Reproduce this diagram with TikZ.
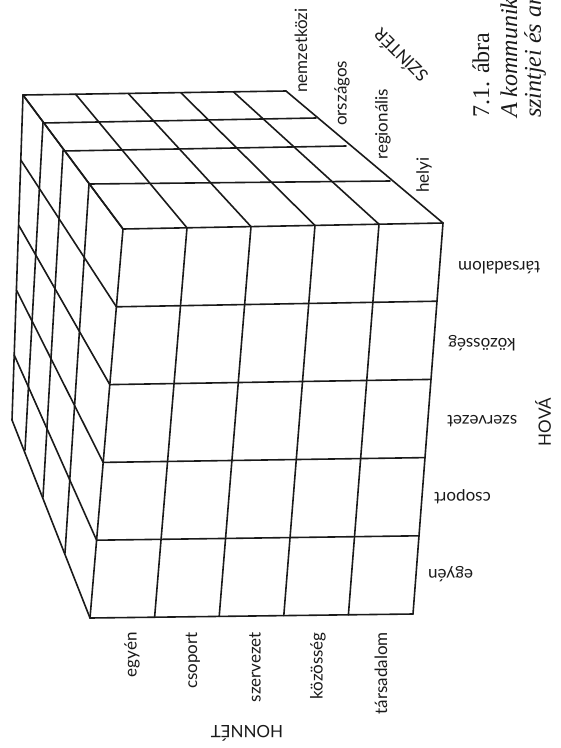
\documentclass[tikz,border=0pt]{standalone}
\usepackage{fontspec}
\newfontfamily\labelfont{Lato}
\newfontfamily\capfont{Liberation Serif}
\usepackage{tikz}
\usetikzlibrary{calc}
\usepackage{xcolor}
\definecolor{Ink}{HTML}{1A1A1A}

\begin{document}
\begin{tikzpicture}[x=1pt,y=-1pt,
  gridline/.style={draw=Ink,line width=1.6pt,line cap=round,line join=round},
  axislbl/.style={font=\labelfont\fontsize{17}{17}\selectfont,text=Ink,inner sep=0pt},
  caplbl/.style={font=\capfont\fontsize{24}{24}\selectfont,text=Ink,inner sep=0pt,rotate=90,anchor=west}]
  \useasboundingbox (0,0) rectangle (561,748);
  \clip (0,0) rectangle (561,748);
  \coordinate (L0) at (123,229); \coordinate (R0) at (443,223);
  \coordinate (L1) at (89,184);  \coordinate (R1) at (390,181);
  \coordinate (L2) at (63,151);  \coordinate (R2) at (346,146);
  \coordinate (L3) at (43,123);  \coordinate (R3) at (316,118);
  \coordinate (L4) at (23,95);   \coordinate (R4) at (286,91);
  \coordinate (B0) at (90,618);  \coordinate (BR) at (413,614);
  \coordinate (B1) at (65,553);
  \coordinate (B2) at (43,497);
  \coordinate (B3) at (25,450);
  \coordinate (B4) at (12,420);
  \foreach \i in {0,...,5} {
    \draw[gridline] ($(L0)!\i/5!(R0)$) -- ($(B0)!\i/5!(BR)$);
    \draw[gridline] ($(L0)!\i/5!(B0)$) -- ($(R0)!\i/5!(BR)$);
    \draw[gridline] ($(L0)!\i/5!(R0)$) -- ($(L4)!\i/5!(R4)$);
    \draw[gridline] ($(L0)!\i/5!(B0)$) -- ($(L4)!\i/5!(B4)$);
  }
  \foreach \k in {1,...,4} {
    \draw[gridline] (L\k) -- (R\k);
    \draw[gridline] (L\k) -- (B\k);
  }
  \node[axislbl,rotate=90,anchor=east] (from1) at (132,632) {egyén};
  \node[axislbl,rotate=90,anchor=east] (from2) at (193,632) {csoport};
  \node[axislbl,rotate=90,anchor=east] (from3) at (255,632) {szervezet};
  \node[axislbl,rotate=90,anchor=east] (from4) at (318,632) {közösség};
  \node[axislbl,rotate=90,anchor=east] (from5) at (381,632) {társadalom};
  \node[axislbl,rotate=180] (honnet) at (247,733) {HONNÉT};
  \node[axislbl,rotate=180,anchor=east] (to1) at (428,574) {egyén};
  \node[axislbl,rotate=180,anchor=east] (to2) at (434,497) {csoport};
  \node[axislbl,rotate=180,anchor=east] (to3) at (447,421) {szervezet};
  \node[axislbl,rotate=180,anchor=east] (to4) at (448,343) {közösség};
  \node[axislbl,rotate=180,anchor=east] (to5) at (458,268) {társadalom};
  \node[axislbl,rotate=90] (hova) at (543,422) {HOVÁ};
  \node[axislbl,rotate=90,anchor=west] (lvl1) at (424,193) {helyi};
  \node[axislbl,rotate=90,anchor=west] (lvl2) at (383,160) {regionális};
  \node[axislbl,rotate=90,anchor=west] (lvl3) at (342,126) {országos};
  \node[axislbl,rotate=90,anchor=west] (lvl4) at (301,93) {nemzetközi};
  \node[axislbl,rotate=135] (szinter) at (400,56) {SZÍNTÉR};
  \node[caplbl] (fig) at (481,118) {7.1. ábra};
  \node[caplbl] (cap1) at (509,118) {\itshape A kommunik};
  \node[caplbl] (cap2) at (535,118) {\itshape szintjei és ar};
\end{tikzpicture}
\end{document}
